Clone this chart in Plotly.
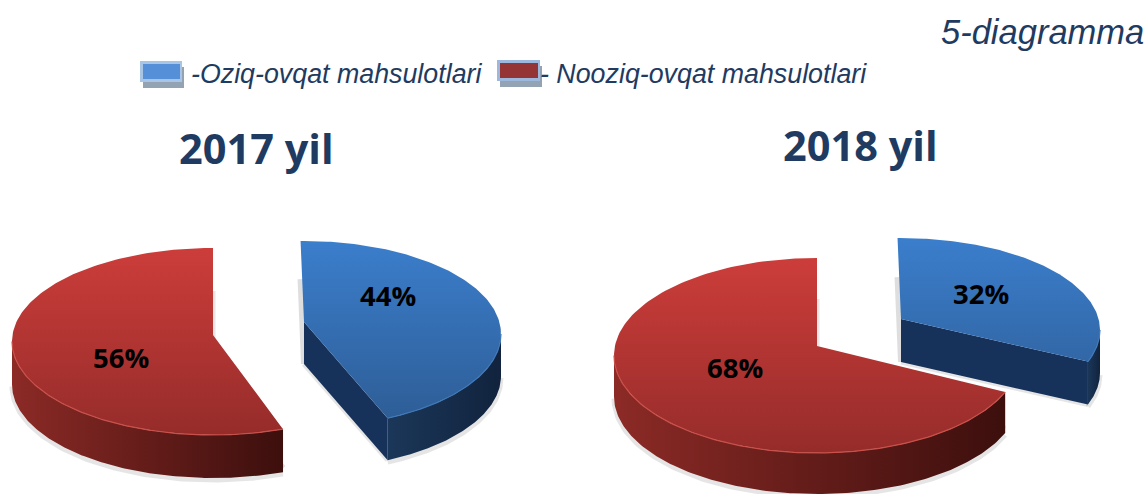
import numpy as np
import plotly.graph_objects as go

# ---- data ----
years = ["2017 yil", "2018 yil"]
categories = ["-Oziq-ovqat mahsulotlari", "- Nooziq-ovqat mahsulotlari"]
food_share = [44, 32]
nonfood_share = [56, 68]
figure_label = "5-diagramma"

# ---- layout of the drawn exploded 3D pies (pixel space) ----
NAVY = "#1f3b61"
geom_food = [
    dict(cx=304, ey=334, rx=197, ry=93, apex=322, start=-1, scale=0.984, depth=42),
    dict(cx=901, ey=330, rx=199, ry=92, apex=319, start=-1, scale=0.964, depth=43),
]
geom_nonfood = [
    dict(cx=213, ey=341.5, rx=201, ry=93.5, apex=335, end=360, scale=0.994, depth=43),
    dict(cx=817, ey=355.5, rx=203, ry=97.5, apex=346, end=360, scale=1.013, depth=41),
]
label_pos_food = [(388, 295), (981, 293)]
label_pos_nonfood = [(121, 357), (735, 367)]
title_pos = [(256, 148), (860, 145)]

fig = go.Figure()


def arc(g, t0, t1, dy=0):
    t = np.radians(np.linspace(t0, t1, 160))
    return g["cx"] + g["rx"] * np.sin(t), g["ey"] - g["ry"] * np.cos(t) + dy


def poly(x, y, fillgrad=None, color=None, line=None):
    fig.add_trace(go.Scatter(
        x=list(x) + [x[0]], y=list(y) + [y[0]], mode="lines", fill="toself",
        line=line or dict(width=0, color="rgba(0,0,0,0)"),
        fillcolor=color, fillgradient=fillgrad,
        hoverinfo="skip", showlegend=False))


def stroke(x, y, color, width):
    fig.add_trace(go.Scatter(x=x, y=y, mode="lines", line=dict(color=color, width=width),
                             hoverinfo="skip", showlegend=False))


def grad(kind, a, b, c0, c1, mid=None):
    cs = [[0, c0], [1, c1]]
    return dict(type=kind, start=a, stop=b, colorscale=cs)


def draw_slice(g, t0, t1, top0, top1, wall0, wall1, flat, rim):
    d = g["depth"]
    ax, ay = g["cx"], g["apex"]
    # soft contact shadow
    sx, sy = arc(g, t0, t0)
    ex, ey_ = arc(g, t1, t1)
    stroke([sx[0], ax], [sy[0] + d - 4, ay + d], "rgba(0,0,0,0.13)", 6)
    stroke([ex[0], ax], [ey_[0] + d, ay + d], "rgba(0,0,0,0.10)", 5)
    fx0, fx1 = max(t0, 90), min(t1, 270)
    ox, oy = arc(g, fx0, fx1, d)
    stroke(list(ox), list(oy + 2), "rgba(0,0,0,0.10)", 5)
    # straight inner wall facing the viewer
    for tt in (t0, t1):
        px, py = arc(g, tt, tt)
        if tt == t1 and 90 < tt < 180:
            poly([ax, px[0], px[0], ax], [ay, py[0], py[0] + d, ay + d], color=flat)
    # curved outer wall
    bx, by = arc(g, fx0, fx1, 0)
    poly(list(bx) + list(bx[::-1]), list(by) + list(by[::-1] + d),
         fillgrad=grad("horizontal", float(max(bx)), float(min(bx)), wall1, wall0)
         if fx1 > 180 else grad("horizontal", float(min(bx)), float(max(bx)), wall0, wall1))
    # top face
    tx, ty = arc(g, t0, t1)
    poly([ax] + list(tx), [ay] + list(ty),
         fillgrad=grad("vertical", g["ey"] - g["ry"], g["ey"] + g["ry"], top0, top1))
    # lit rim along the front edge
    rx_, ry_ = arc(g, fx0, fx1)
    stroke(list(rx_), list(ry_), rim, 1.2)


for i in range(2):
    gn = geom_nonfood[i]
    sweep = nonfood_share[i] * 3.6 * gn["scale"]
    draw_slice(gn, gn["end"] - sweep, gn["end"], "#cc3d3a", "#952c2a", "#8c2a26", "#3c0f0d",
               "#3c0f0d", "#c9504a")
    gf = geom_food[i]
    sweep = food_share[i] * 3.6 * gf["scale"]
    draw_slice(gf, gf["start"], gf["start"] + sweep, "#3b7ecc", "#2d5c94", "#1b3759", "#11233d",
               "#17325a", "#3f78b8")

annotations = []
for i in range(2):
    for val, pos in ((food_share[i], label_pos_food[i]), (nonfood_share[i], label_pos_nonfood[i])):
        annotations.append(dict(x=pos[0], y=pos[1], text=f"<b>{val}%</b>", showarrow=False,
                                xanchor="center", yanchor="middle",
                                font=dict(family="Open Sans", size=27.5, color="#000000")))
    annotations.append(dict(x=title_pos[i][0], y=title_pos[i][1], text=f"<b>{years[i]}</b>",
                            showarrow=False, xanchor="center", yanchor="middle",
                            font=dict(family="Open Sans", size=41.5, color=NAVY)))
annotations.append(dict(x=1146, y=32, text=f"<i>{figure_label}</i>", showarrow=False,
                        xanchor="right", yanchor="middle",
                        font=dict(family="Liberation Sans", size=34.5, color=NAVY)))
annotations.append(dict(x=189, y=74, text=f"<i>{categories[0]}</i>", showarrow=False,
                        xanchor="left", yanchor="middle",
                        font=dict(family="Liberation Sans", size=26.8, color=NAVY)))
annotations.append(dict(x=538, y=74, text=f"<i>{categories[1]}</i>", showarrow=False,
                        xanchor="left", yanchor="middle",
                        font=dict(family="Liberation Sans", size=26.8, color=NAVY)))


def swatch(x0, y0, x1, y1, fill, border):
    return [
        dict(type="rect", x0=x0 + 3, y0=y0 + 6, x1=x1 + 2, y1=y1 + 6, fillcolor="#94a3b4", line_width=0),
        dict(type="rect", x0=x0, y0=y0, x1=x1, y1=y1, fillcolor=border, line_width=0),
        dict(type="rect", x0=x0 + 3, y0=y0 + 3, x1=x1 - 2, y1=y1 - 3, fillcolor=fill, line_width=0),
    ]


shapes = swatch(140, 61, 182, 82, "#558fd8", "#a9c5e6") + swatch(497, 60, 540, 81, "#943434", "#9cb8dc")

fig.update_layout(
    width=1147, height=494, margin=dict(l=0, r=0, t=0, b=0),
    paper_bgcolor="white", plot_bgcolor="white", showlegend=False,
    xaxis=dict(range=[0, 1147], visible=False, fixedrange=True),
    yaxis=dict(range=[494, 0], visible=False, fixedrange=True),
    annotations=annotations, shapes=shapes,
)
fig.write_html("out.html", config=dict(displayModeBar=False),
               post_script="document.body.style.margin='0';")
